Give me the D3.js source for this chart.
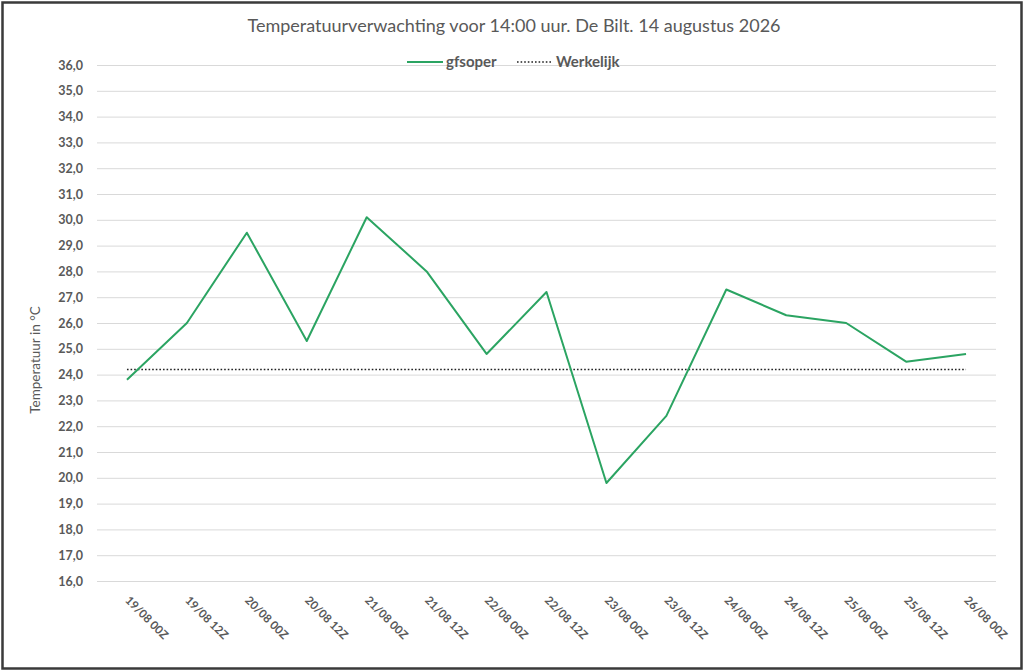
<!DOCTYPE html>
<html>
<head>
<meta charset="utf-8">
<script src="https://cdn.jsdelivr.net/npm/d3@7"></script>
<style>
  html, body { margin: 0; padding: 0; background: #fff; }
  svg { display: block; font-family: Lato, "Open Sans", sans-serif; }
</style>
</head>
<body>
<svg id="chart" width="1024" height="671"></svg>
<script>
// Data
const categories = ["19/08 00Z", "19/08 12Z", "20/08 00Z", "20/08 12Z", "21/08 00Z",
  "21/08 12Z", "22/08 00Z", "22/08 12Z", "23/08 00Z", "23/08 12Z",
  "24/08 00Z", "24/08 12Z", "25/08 00Z", "25/08 12Z", "26/08 00Z"];
const gfsoper = [23.8, 26.0, 29.5, 25.3, 30.1, 28.0, 24.8, 27.2, 19.8, 22.4,
  27.3, 26.3, 26.0, 24.5, 24.8];
const werkelijk = categories.map(() => 24.2);
const yTicks = d3.range(16, 37, 1);

const W = 1024, H = 671;
const margin = { top: 65, right: 28, bottom: 90, left: 97 };
const svg = d3.select("#chart");
const textColor = "#595959";
const green = "#2ba462";

// outer frame
svg.append("rect")
  .attr("x", 2.5).attr("y", 2.5)
  .attr("width", W - 5).attr("height", H - 5)
  .attr("fill", "none").attr("stroke", "#3a3a3a").attr("stroke-width", 2.5);

const x = d3.scalePoint()
  .domain(categories)
  .range([margin.left, W - margin.right])
  .padding(0.5);

const y = d3.scaleLinear()
  .domain([16, 36])
  .range([H - margin.bottom, margin.top]);

// gridlines
svg.append("g")
  .selectAll("line")
  .data(yTicks)
  .join("line")
  .attr("x1", margin.left).attr("x2", W - margin.right)
  .attr("y1", d => y(d) + 0.5).attr("y2", d => y(d) + 0.5)
  .attr("stroke", "#d9d9d9").attr("stroke-width", 1);

// y axis labels
const yAxis = d3.axisLeft(y).tickValues(yTicks).tickSize(0).tickPadding(14)
  .tickFormat(d => d3.format(".1f")(d).replace(".", ","));
svg.append("g")
  .attr("transform", `translate(${margin.left},0)`)
  .call(yAxis)
  .call(g => g.select(".domain").remove())
  .selectAll("text")
  .attr("fill", textColor)
  .attr("font-family", "Lato, sans-serif")
  .attr("font-size", 12.5)
  .attr("font-weight", "bold");

// x axis labels, rotated
const xAxis = d3.axisBottom(x).tickSize(0).tickPadding(0);
svg.append("g")
  .attr("transform", `translate(0,${H - margin.bottom})`)
  .call(xAxis)
  .call(g => g.select(".domain").remove())
  .selectAll("text")
  .attr("fill", textColor)
  .attr("font-family", "Lato, sans-serif")
  .attr("font-size", 11.5)
  .attr("font-weight", "bold")
  .attr("text-anchor", "start")
  .attr("dy", 0)
  .attr("transform", "translate(-3,20) rotate(45)");

// axis title
svg.append("text")
  .attr("transform", "translate(40,360) rotate(-90)")
  .attr("text-anchor", "middle")
  .attr("fill", textColor)
  .attr("font-size", 13.5)
  .text("Temperatuur in °C");

// title
svg.append("text")
  .attr("x", 514).attr("y", 32)
  .attr("text-anchor", "middle")
  .attr("fill", textColor)
  .attr("font-size", 18)
  .text("Temperatuurverwachting voor 14:00 uur. De Bilt. 14 augustus 2026");

const line = d3.line()
  .x((d, i) => x(categories[i]))
  .y(d => y(d));

// Werkelijk (dotted)
svg.append("path")
  .datum(werkelijk)
  .attr("d", line)
  .attr("fill", "none")
  .attr("stroke", "#222")
  .attr("stroke-width", 1.6)
  .attr("stroke-dasharray", "1.6,2");

// gfsoper
svg.append("path")
  .datum(gfsoper)
  .attr("d", line)
  .attr("fill", "none")
  .attr("stroke", green)
  .attr("stroke-width", 2)
  .attr("stroke-linejoin", "round");

// legend
const legend = svg.append("g").attr("transform", "translate(0,62)");
legend.append("line")
  .attr("x1", 407).attr("x2", 443).attr("y1", 0).attr("y2", 0)
  .attr("stroke", green).attr("stroke-width", 2);
legend.append("text")
  .attr("x", 446).attr("y", 5)
  .attr("fill", textColor).attr("font-size", 15).attr("font-weight", "bold")
  .text("gfsoper");
legend.append("line")
  .attr("x1", 517).attr("x2", 551).attr("y1", 0).attr("y2", 0)
  .attr("stroke", "#222").attr("stroke-width", 1.6)
  .attr("stroke-dasharray", "1.6,2");
legend.append("text")
  .attr("x", 556).attr("y", 5)
  .attr("fill", textColor).attr("font-size", 15).attr("font-weight", "bold")
  .text("Werkelijk");
</script>
</body>
</html>
